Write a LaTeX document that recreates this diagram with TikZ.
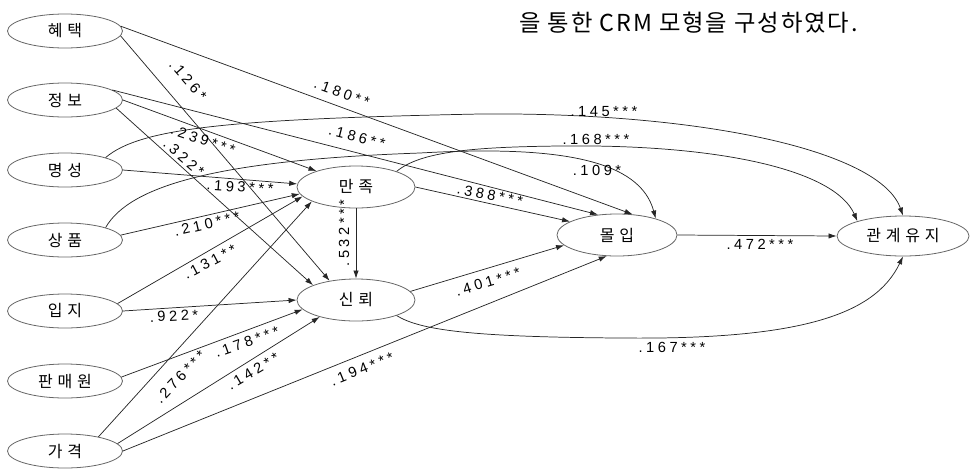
\documentclass[tikz,border=0pt]{standalone}
\usepackage{fontspec}
\setmainfont{Liberation Sans}
\newfontfamily\krfont[LetterSpace=30]{Noto Sans CJK KR}
\newfontfamily\krtitle[LetterSpace=8]{Noto Sans CJK KR}
\newfontfamily\lblfont[LetterSpace=24]{Liberation Sans}
\usetikzlibrary{shapes.geometric,arrows.meta}
\begin{document}
\begin{tikzpicture}[x=0.75pt,y=-0.75pt,
  src/.style={ellipse,draw=black!60,line width=0.6pt,minimum width=86.25pt,minimum height=25.5pt,inner sep=0pt,font=\krfont\fontsize{12}{14}\selectfont},
  mid/.style={src,minimum width=88.5pt,minimum height=31.5pt},
  arr/.style={draw=black!85,line width=0.55pt,-{Latex[length=6pt,width=4pt]}},
  lab/.style={font=\lblfont\fontsize{11}{13}\selectfont,inner sep=0pt}]
\useasboundingbox (0,0) rectangle (971,472);

% nodes
\node[src] (hye) at (65,31) {혜택};
\node[src] (jeong) at (65,100) {정보};
\node[src] (myeong) at (65,170) {명성};
\node[src] (sang) at (65,240) {상품};
\node[src] (ip) at (65,311) {입지};
\node[src] (pan) at (65,381) {판매원};
\node[src] (ga) at (65,451) {가격};
\node[mid] (man) at (356,187) {만족};
\node[mid] (sin) at (356,300) {신뢰};
\node[mid,minimum width=90pt] (mol) at (617,235) {몰입};
\node[mid,minimum width=99pt,minimum height=30pt] (gwan) at (903,236) {관계유지};
\node[font=\krtitle\fontsize{17.5}{20}\selectfont,anchor=west,inner sep=0pt] (title) at (519,23) {을 통한 CRM 모형을 구성하였다.};

% straight paths
\draw[arr] (hye.5) -- (mol.53.5);
\draw[arr] (hye.-5) -- (sin.144);
\draw[arr] (jeong.12) -- (mol.133.7);
\draw[arr] (jeong.0) -- (man.158);
\draw[arr] (jeong.-9.5) -- (sin.161.5);
\draw[arr] (myeong.0) -- (man.177);
\draw[arr] (sang.5) -- (man.187);
\draw[arr] (ip.8) -- (man.190);
\draw[arr] (ip.0) -- (sin.180);
\draw[arr] (pan.4) -- (sin.190);
\draw[arr] (ga.23) -- (man.198);
\draw[arr] (ga.8) -- (sin.205);
\draw[arr] (ga.0) -- (mol.244);
\draw[arr] (man.south) -- (sin.north);
\draw[arr] (man.0) -- (mol.164.5);
\draw[arr] (sin.9) -- (mol.191.4);
\draw[arr] (mol.east) -- (gwan.west);

% curved paths
\draw[arr] (myeong.17) .. controls (140,128) and (230,119) .. (480,114) .. controls (700,112) and (880,150) .. (gwan.90);
\draw[arr] (sang.17) .. controls (130,185) and (220,160) .. (420,153) .. controls (560,145) and (640,160) .. (mol.23);
\draw[arr] (man.21) .. controls (420,152) and (470,147) .. (560,146) .. controls (720,144) and (835,170) .. (gwan.162.7);
\draw[arr] (sin.-21) .. controls (420,330) and (470,337) .. (620,338) .. controls (800,340) and (875,315) .. (gwan.south);

% labels
\node[lab,rotate=-20] (l180) at (342,93) {.180**};
\node[lab,rotate=-49] (l126) at (188,80) {.126*};
\node[lab,rotate=-14.4] (l186) at (357,137) {.186**};
\node[lab,rotate=-19] (l239) at (203,140) {.239***};
\node[lab,rotate=-41] (l322) at (184,158) {.322*};
\node[lab,rotate=-4] (l193) at (240,187) {.193***};
\node[lab] (l145) at (604,112) {.145***};
\node[lab] (l168) at (596,139) {.168***};
\node[lab] (l109) at (597,170) {.109*};
\node[lab,rotate=13] (l210) at (207,224) {.210***};
\node[lab,rotate=28] (l131) at (210,262) {.131**};
\node[lab,rotate=3] (l922) at (174,316) {.922*};
\node[lab,rotate=19.5] (l178) at (247,342) {.178***};
\node[lab,rotate=30.6] (l142) at (253,371) {.142**};
\node[lab,rotate=46.7] (l276) at (180,377) {.276***};
\node[lab,rotate=22] (l194) at (362,369) {.194***};
\node[lab,rotate=90] (l532) at (344,233) {.532***};
\node[lab,rotate=-10.8] (l388) at (490,195) {.388***};
\node[lab,rotate=16.5] (l401) at (488,282) {.401***};
\node[lab] (l167) at (672,347) {.167***};
\node[lab] (l472) at (760,244) {.472***};
\end{tikzpicture}
\end{document}
